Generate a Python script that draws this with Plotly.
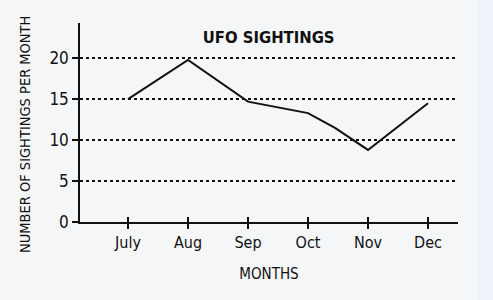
import plotly.graph_objects as go

months = ["July", "Aug", "Sep", "Oct", "Nov", "Dec"]
month_pos = [0, 1, 2, 3, 4, 5]
# line points (including the visible bend between Oct and Nov)
line_x = [0, 1, 2, 3, 3.45, 4, 5]
line_y = [15.0, 19.8, 14.7, 13.3, 11.5, 8.8, 14.5]
y_ticks = [0, 5, 10, 15, 20]

FONT = "DejaVu Sans Condensed, Liberation Sans Narrow, Arial Narrow, sans-serif"
BG = "#f5f6f8"

fig = go.Figure()
fig.add_trace(go.Scatter(x=line_x, y=line_y, mode="lines",
                         line=dict(color="#111", width=2), showlegend=False))
# invisible trace on overlay axis for inside ticks
fig.add_trace(go.Scatter(x=month_pos, y=[None]*6, xaxis="x2", yaxis="y",
                         showlegend=False, hoverinfo="skip"))

fig.update_layout(
    width=493, height=300,
    margin=dict(l=80, r=35, t=23, b=78),
    paper_bgcolor=BG, plot_bgcolor=BG,
    font=dict(family=FONT, color="#111"),
    title=dict(text="<b>UFO SIGHTINGS</b>", x=0.545, xanchor="center",
               y=0.877, yanchor="middle", font=dict(size=16.5, family=FONT)),
    xaxis=dict(range=[-0.8, 5.5], tickvals=month_pos, ticktext=months,
               showgrid=False, zeroline=False, showline=True,
               linecolor="#111", linewidth=1.5,
               ticks="outside", ticklen=5, tickwidth=1.5, tickcolor="#111",
               tickfont=dict(size=16, family=FONT),
               title=dict(text="MONTHS", font=dict(size=15, family=FONT), standoff=18)),
    xaxis2=dict(range=[-0.8, 5.5], overlaying="x", anchor="y",
                tickvals=month_pos, showticklabels=False, showgrid=False,
                zeroline=False, ticks="inside", ticklen=5, tickwidth=1.5,
                tickcolor="#111", side="bottom"),
    yaxis=dict(range=[0, 24.3], tickvals=y_ticks,
               showgrid=True, gridcolor="#111", gridwidth=1.5, griddash="dot",
               zeroline=False, showline=True, linecolor="#111", linewidth=1.5,
               ticks="outside", ticklen=6, tickwidth=1.5, tickcolor="#111",
               tickfont=dict(size=17, family=FONT)),
    annotations=[dict(text="NUMBER OF SIGHTINGS PER MONTH", textangle=-90,
                      xref="paper", yref="paper", x=(25-80)/378, y=(222-135)/199,
                      xanchor="center", yanchor="middle", showarrow=False,
                      font=dict(size=14.5, family=FONT))],
    shapes=[dict(type="rect", xref="paper", yref="paper",
                 x0=(478-80)/378, x1=(493-80)/378, y0=-1, y1=2,
                 fillcolor="#eef2fa", line=dict(width=0), layer="below")],
)

fig.write_html("out.html")
